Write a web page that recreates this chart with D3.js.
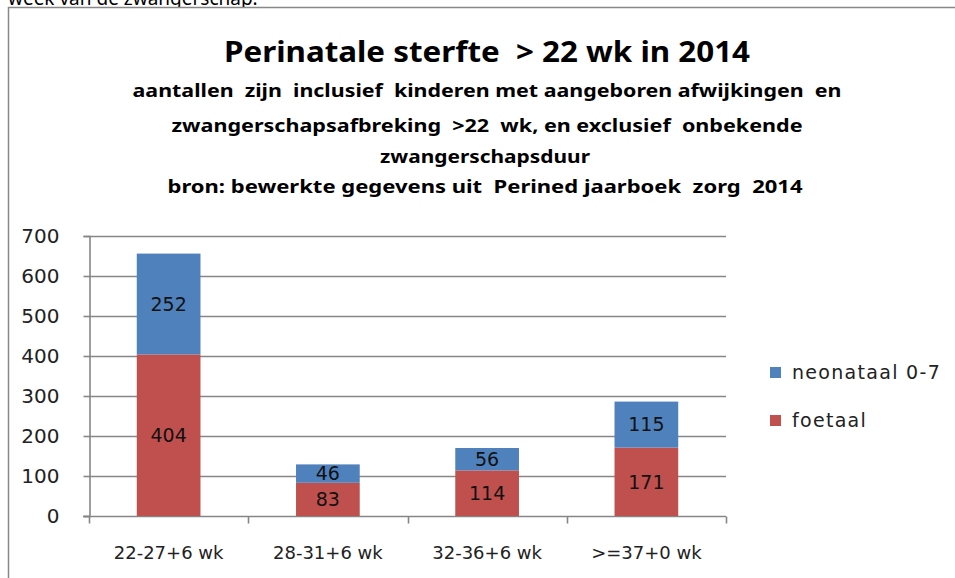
<!DOCTYPE html>
<html>
<head>
<meta charset="utf-8">
<script src="https://cdn.jsdelivr.net/npm/d3@7"></script>
<style>
  body { margin: 0; background: #fff; }
  svg { display: block; }
  text { white-space: pre; }
</style>
</head>
<body>
<div id="chart"></div>
<script>
// data
var categories = ["22-27+6 wk", "28-31+6 wk", "32-36+6 wk", ">=37+0 wk"];
var foetaal = [404, 83, 114, 171];
var neonataal = [252, 46, 56, 115];
var seriesNames = ["neonataal 0-7", "foetaal"];
var yTicks = [0, 100, 200, 300, 400, 500, 600, 700];

var titleLines = [
  "aantallen  zijn  inclusief  kinderen met aangeboren afwijkingen  en",
  "zwangerschapsafbreking  >22  wk, en exclusief  onbekende",
  "zwangerschapsduur",
  "bron: bewerkte gegevens uit  Perined jaarboek  zorg  2014"
];

var W = 955, H = 578;
var svg = d3.select("#chart").append("svg")
  .attr("width", W)
  .attr("height", H);

// text of the page above the chart, cut off at the top
svg.append("text")
  .attr("x", 8)
  .attr("y", 5)
  .style("font-family", "Noto Sans, sans-serif")
  .style("font-size", "19px")
  .attr("fill", "#000")
  .text("week van de zwangerschap.");

// chart border
svg.append("rect")
  .attr("x", 8.5).attr("y", 7.5)
  .attr("width", 960).attr("height", 600)
  .attr("fill", "#fff")
  .attr("stroke", "#888")
  .attr("stroke-width", 1.5);

// title
svg.append("text")
  .attr("x", 487).attr("y", 62)
  .attr("text-anchor", "middle")
  .attr("textLength", 526)
  .attr("lengthAdjust", "spacingAndGlyphs")
  .style("font-family", "Noto Sans, sans-serif")
  .style("font-weight", "bold")
  .style("font-size", "29px")
  .text("Perinatale sterfte  > 22 wk in 2014");

var subWidths = [709, 631, 210, 635];
var subY = [97, 132, 163, 193];
var subX = [487, 487, 485, 485];
titleLines.forEach(function(t, i) {
  svg.append("text")
    .attr("x", subX[i]).attr("y", subY[i])
    .attr("text-anchor", "middle")
    .attr("textLength", subWidths[i])
    .attr("lengthAdjust", "spacingAndGlyphs")
    .style("font-family", "Noto Sans, sans-serif")
    .style("font-weight", "bold")
    .style("font-size", "18px")
    .text(t);
});

var margin = {left: 89, top: 236, right: 726, bottom: 516};

var x = d3.scaleBand()
  .domain(categories)
  .range([margin.left, margin.right])
  .paddingInner(0.6)
  .paddingOuter(0.3);

var y = d3.scaleLinear()
  .domain([0, 700])
  .range([margin.bottom, margin.top]);

// gridlines
svg.append("g")
  .selectAll("line")
  .data(yTicks.filter(function(d) { return d > 0; }))
  .enter().append("line")
  .attr("x1", margin.left).attr("x2", margin.right)
  .attr("y1", function(d) { return Math.round(y(d)) + 0.5; })
  .attr("y2", function(d) { return Math.round(y(d)) + 0.5; })
  .attr("stroke", "#868686")
  .attr("stroke-width", 1.6);

// y axis
var yAxis = svg.append("g")
  .attr("transform", "translate(" + (margin.left + 0.5) + ",0)")
  .call(d3.axisLeft(y).tickValues(yTicks).tickSize(6).tickPadding(24));
yAxis.select(".domain").attr("stroke", "#868686").attr("stroke-width", 1.6);
yAxis.selectAll(".tick line").attr("stroke", "#868686").attr("stroke-width", 1.6);
yAxis.selectAll("text")
  .style("font-family", "DejaVu Sans, sans-serif")
  .style("font-size", "20px")
  .attr("fill", "#222");

// x axis
var band = (margin.right - margin.left) / categories.length;
var xAxis = svg.append("g")
  .attr("transform", "translate(0," + (margin.bottom + 0.5) + ")");
xAxis.append("line")
  .attr("x1", margin.left - 6).attr("x2", margin.right)
  .attr("stroke", "#868686").attr("stroke-width", 1.6);
xAxis.selectAll(".tk")
  .data(d3.range(categories.length + 1))
  .enter().append("line")
  .attr("x1", function(i) { return Math.round(margin.left + i * band) + 0.5; })
  .attr("x2", function(i) { return Math.round(margin.left + i * band) + 0.5; })
  .attr("y1", 0).attr("y2", 7)
  .attr("stroke", "#868686").attr("stroke-width", 1.6);
xAxis.selectAll(".lbl")
  .data(categories)
  .enter().append("text")
  .attr("x", function(d) { return x(d) + x.bandwidth() / 2; })
  .attr("y", 42)
  .attr("text-anchor", "middle")
  .style("font-family", "DejaVu Sans, sans-serif")
  .style("font-size", "18px")
  .attr("fill", "#222")
  .text(function(d) { return d; });

// stacked bars
var colors = {foetaal: "#C0504D", neonataal: "#4F81BD"};
var rows = categories.map(function(c, i) {
  return {cat: c, foetaal: foetaal[i], neonataal: neonataal[i]};
});
var stack = d3.stack().keys(["foetaal", "neonataal"])(rows);

var layers = svg.append("g").selectAll("g")
  .data(stack)
  .enter().append("g")
  .attr("fill", function(d) { return colors[d.key]; });

layers.selectAll("rect")
  .data(function(d) { return d; })
  .enter().append("rect")
  .attr("x", function(d) { return x(d.data.cat); })
  .attr("y", function(d) { return y(d[1]); })
  .attr("width", x.bandwidth())
  .attr("height", function(d) { return y(d[0]) - y(d[1]); });

layers.selectAll("text")
  .data(function(d) { return d; })
  .enter().append("text")
  .attr("x", function(d) { return x(d.data.cat) + x.bandwidth() / 2; })
  .attr("y", function(d) { return (y(d[0]) + y(d[1])) / 2; })
  .attr("dy", "0.36em")
  .attr("text-anchor", "middle")
  .attr("fill", "#111")
  .style("font-family", "DejaVu Sans, sans-serif")
  .style("font-size", "19px")
  .text(function(d) { return d[1] - d[0]; });

// legend
var legend = svg.append("g");
var legendY = [372, 420];
var legendKeys = ["neonataal", "foetaal"];
legendKeys.forEach(function(k, i) {
  legend.append("rect")
    .attr("x", 770).attr("y", legendY[i] - 5)
    .attr("width", 11).attr("height", 11)
    .attr("fill", colors[k]);
  legend.append("text")
    .attr("x", 792).attr("y", legendY[i])
    .attr("dy", "0.36em")
    .style("font-family", "DejaVu Sans, sans-serif")
    .style("font-size", "19px")
    .style("letter-spacing", "1.3px")
    .attr("fill", "#222")
    .text(seriesNames[i]);
});
</script>
</body>
</html>
